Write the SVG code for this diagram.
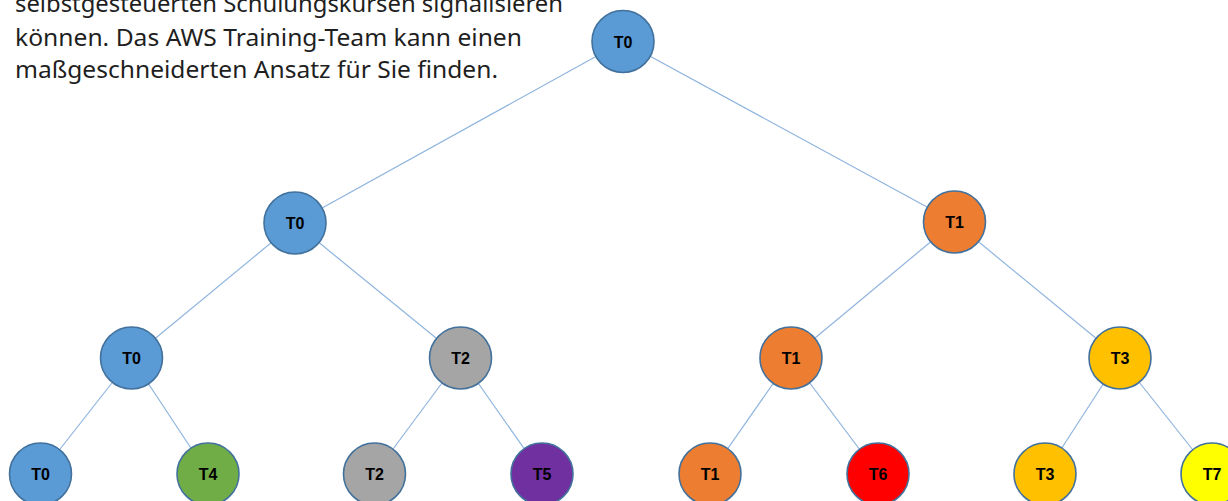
<svg xmlns="http://www.w3.org/2000/svg" width="1228" height="501" viewBox="0 0 1228 501">
<style>
.bg{fill:#ffffff}
.para{font-family:"Noto Sans","Open Sans","Liberation Sans",sans-serif;font-size:24px;fill:#1f1f1f}
.edge{stroke:#8FB4DE;stroke-width:1.2;fill:none}
.node circle{stroke:#41719C;stroke-width:1.6}
.node text{font-family:"Liberation Sans",Arial,sans-serif;font-weight:bold;font-size:16px;fill:#000;text-anchor:middle}
.blue{fill:#5B9BD5}.orange{fill:#ED7D31}.gray{fill:#A5A5A5}.gold{fill:#FFC000}
.green{fill:#70AD47}.purple{fill:#7030A0}.red{fill:#FF0000}.yellow{fill:#FFFF00}
</style>
<rect class="bg" x="0" y="0" width="1228" height="501"/>
<g id="caption">
<text class="para" x="15" y="12" textLength="548" lengthAdjust="spacingAndGlyphs">selbstgesteuerten Schulungskursen signalisieren</text>
<text class="para" x="15" y="46" textLength="507" lengthAdjust="spacingAndGlyphs">können. Das AWS Training-Team kann einen</text>
<text class="para" x="15" y="78" textLength="483" lengthAdjust="spacingAndGlyphs">maßgeschneiderten Ansatz für Sie finden.</text>
</g>
<g id="connectors">
<line class="edge" x1="623" y1="41.5" x2="295" y2="223"/>
<line class="edge" x1="623" y1="41.5" x2="954.5" y2="222"/>
<line class="edge" x1="295" y1="223" x2="131.5" y2="358"/>
<line class="edge" x1="295" y1="223" x2="460.5" y2="358"/>
<line class="edge" x1="954.5" y1="222" x2="791" y2="358"/>
<line class="edge" x1="954.5" y1="222" x2="1120" y2="358"/>
<line class="edge" x1="131.5" y1="358" x2="40.5" y2="474"/>
<line class="edge" x1="131.5" y1="358" x2="208" y2="474"/>
<line class="edge" x1="460.5" y1="358" x2="374.5" y2="474"/>
<line class="edge" x1="460.5" y1="358" x2="542" y2="474"/>
<line class="edge" x1="791" y1="358" x2="710" y2="474"/>
<line class="edge" x1="791" y1="358" x2="878" y2="474"/>
<line class="edge" x1="1120" y1="358" x2="1045" y2="474"/>
<line class="edge" x1="1120" y1="358" x2="1212" y2="474"/>
</g>
<g id="n-root" class="node"><circle class="blue" cx="623" cy="41.5" r="31"/><text x="623" y="47.5">T0</text></g>
<g id="n-l1-t0" class="node"><circle class="blue" cx="295" cy="223" r="31"/><text x="295" y="229">T0</text></g>
<g id="n-l1-t1" class="node"><circle class="orange" cx="954.5" cy="222" r="31"/><text x="954.5" y="228">T1</text></g>
<g id="n-l2-t0" class="node"><circle class="blue" cx="131.5" cy="358" r="31"/><text x="131.5" y="364">T0</text></g>
<g id="n-l2-t2" class="node"><circle class="gray" cx="460.5" cy="358" r="31"/><text x="460.5" y="364">T2</text></g>
<g id="n-l2-t1" class="node"><circle class="orange" cx="791" cy="358" r="31"/><text x="791" y="364">T1</text></g>
<g id="n-l2-t3" class="node"><circle class="gold" cx="1120" cy="358" r="31"/><text x="1120" y="364">T3</text></g>
<g id="n-l3-t0" class="node"><circle class="blue" cx="40.5" cy="474" r="31"/><text x="40.5" y="480">T0</text></g>
<g id="n-l3-t4" class="node"><circle class="green" cx="208" cy="474" r="31"/><text x="208" y="480">T4</text></g>
<g id="n-l3-t2" class="node"><circle class="gray" cx="374.5" cy="474" r="31"/><text x="374.5" y="480">T2</text></g>
<g id="n-l3-t5" class="node"><circle class="purple" cx="542" cy="474" r="31"/><text x="542" y="480">T5</text></g>
<g id="n-l3-t1" class="node"><circle class="orange" cx="710" cy="474" r="31"/><text x="710" y="480">T1</text></g>
<g id="n-l3-t6" class="node"><circle class="red" cx="878" cy="474" r="31"/><text x="878" y="480">T6</text></g>
<g id="n-l3-t3" class="node"><circle class="gold" cx="1045" cy="474" r="31"/><text x="1045" y="480">T3</text></g>
<g id="n-l3-t7" class="node"><circle class="yellow" cx="1212" cy="474" r="31"/><text x="1212" y="480">T7</text></g>
</svg>
